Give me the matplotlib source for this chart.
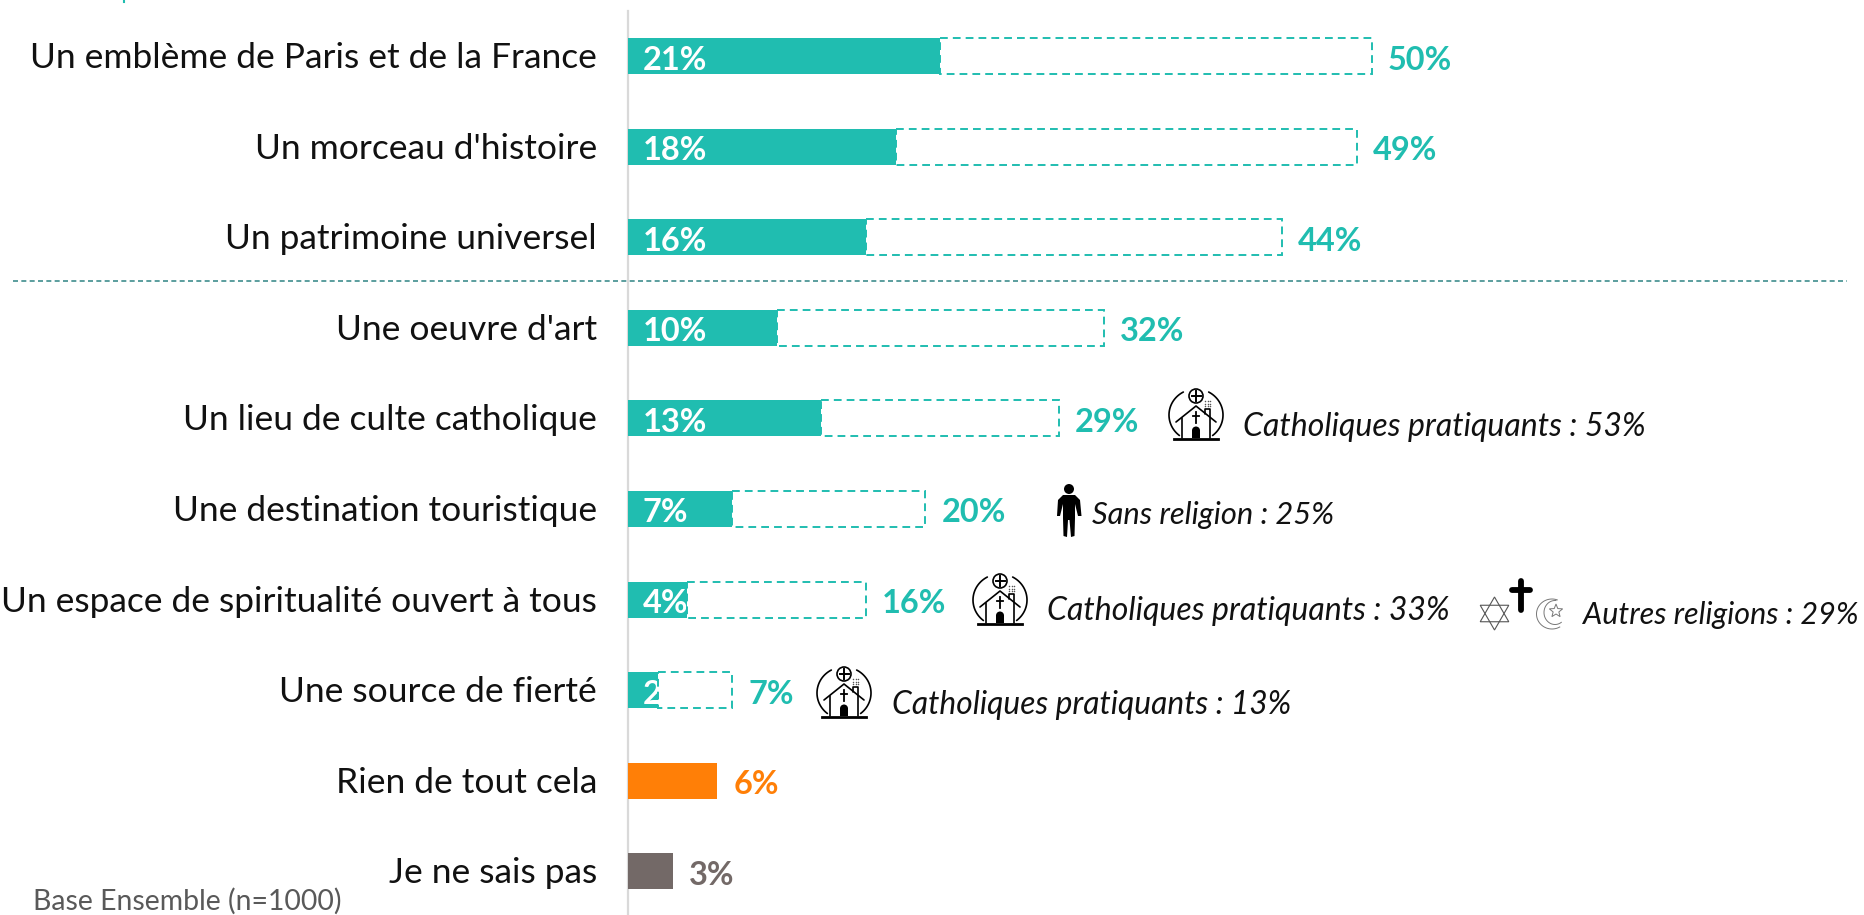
import numpy as np
import matplotlib
matplotlib.use("Agg")
import matplotlib.pyplot as plt
from matplotlib.patches import Circle, Polygon, Rectangle, Wedge

categories = ["Un emblème de Paris et de la France", "Un morceau d'histoire", "Un patrimoine universel",
              "Une oeuvre d'art", "Un lieu de culte catholique", "Une destination touristique",
              "Un espace de spiritualité ouvert à tous", "Une source de fierté", "Rien de tout cela", "Je ne sais pas"]
first_values = [21, 18, 16, 10, 13, 7, 4, 2, 6, 3]
total_values = [50, 49, 44, 32, 29, 20, 16, 7, 6, 3]
bar_colors = ["#20BDB0"] * 8 + ["#FF7F07", "#736967"]

TEAL = "#20BDB0"
FONT = ["Lato", "DejaVu Sans"]
W, H = 1864, 915
PX_PER_PCT = 14.87
X0 = 628
Y0, ROW = 56, 90.6

fig = plt.figure(figsize=(W / 100, H / 100), dpi=100, facecolor="white")
ax = fig.add_axes([0, 0, 1, 1])
ax.set_xlim(-X0 / PX_PER_PCT, (W - X0) / PX_PER_PCT)
ax.set_ylim((H - Y0) / ROW, -Y0 / ROW)
ax.axis("off")
ov = fig.add_axes([0, 0, 1, 1], facecolor="none")
ov.set_xlim(0, W)
ov.set_ylim(H, 0)
ov.axis("off")

BAR_H = 36 / ROW
y_pos = np.arange(len(categories))
ax.plot([0, 0], [(11 - Y0) / ROW, (H - Y0) / ROW], color="#D9D9D9", lw=1.6, zorder=1)
ax.barh(y_pos, first_values, height=BAR_H, color=bar_colors, zorder=2)
for i, (cat, a, b, c) in enumerate(zip(categories, first_values, total_values, bar_colors)):
    ax.annotate(cat, (0, i), xytext=(-31, -2), textcoords="offset pixels", ha="right", va="center",
                fontsize=25.5, family=FONT, weight="normal", color="#111111", zorder=3)
    if i < 8:
        ax.annotate(f"{a}%", (0, i), xytext=(15, -4), textcoords="offset pixels", ha="left", va="center",
                    fontsize=23.4, family=FONT, weight="bold", color="white", zorder=3)
        ax.barh(i, b - a, left=a, height=BAR_H, facecolor="white", edgecolor=TEAL, lw=1.4,
                linestyle=(0, (4, 2.6)), zorder=4)
    ax.annotate(f"{b}%", (b, i), xytext=(16, -4), textcoords="offset pixels", ha="left", va="center",
                fontsize=23.4, family=FONT, weight="bold", color=c, zorder=5)

ov.plot([13, 1847], [281, 281], color="#3E8E8E", lw=1.2, linestyle=(0, (3, 2)), zorder=1)
ov.plot([124, 124], [0, 2], color=TEAL, lw=1.5)

notes = [("Catholiques pratiquants : 53%", 1243, 427, 23), ("Sans religion : 25%", 1092, 515, 22.2),
         ("Catholiques pratiquants : 33%", 1047, 611, 23), ("Autres religions : 29%", 1583, 615, 22),
         ("Catholiques pratiquants : 13%", 892, 705, 22.9)]
for txt, x, y, size in notes:
    ov.text(x, y, txt, ha="left", va="center", fontsize=size, family=FONT, style="italic",
            weight="normal", color="#111111")
ov.text(33, 901, "Base Ensemble (n=1000)", ha="left", va="center", fontsize=20.4, family=FONT,
        weight="normal", color="#595959")


def church(x, y):
    k = dict(color="black", lw=1.2, solid_capstyle="round")
    t = np.radians(np.linspace(118, 232, 40))
    ov.plot(x + 27 + 27 * np.cos(t), y + 27 - 26 * np.sin(t), **k)
    ov.plot(x + 27 - 27 * np.cos(t), y + 27 - 26 * np.sin(t), **k)
    ov.add_patch(Circle((x + 27, y + 8), 7, fc="white", ec="black", lw=1.2, zorder=3))
    ov.plot([x + 27, x + 27], [y + 3, y + 13], color="black", lw=1.4, zorder=4)
    ov.plot([x + 22.5, x + 31.5], [y + 8, y + 8], color="black", lw=1.4, zorder=4)
    ov.plot([x + 7, x + 27, x + 47], [y + 34, y + 18, y + 34], **k)
    ov.plot([x + 13, x + 13], [y + 30, y + 50], **k)
    ov.plot([x + 41, x + 41, x + 36, x + 36], [y + 50, y + 21, y + 21, y + 26], **k)
    ov.plot([x + 5, x + 49], [y + 50.5, y + 50.5], color="black", lw=2)
    ov.plot([x + 27, x + 27], [y + 24, y + 35], color="black", lw=1.3)
    ov.plot([x + 24, x + 30], [y + 28, y + 28], color="black", lw=1.3)
    ov.add_patch(Wedge((x + 27, y + 42.5), 4, 180, 360, fc="black", ec="none"))
    ov.add_patch(Rectangle((x + 23, y + 42), 8, 8, fc="black", ec="none"))
    dx, dy = np.meshgrid([36, 38.5, 41], [13, 15.5, 18])
    ov.scatter(x + dx.ravel(), y + dy.ravel(), s=1.2, color="#555555", lw=0)


for cx, cy in [(1169, 388), (973, 573), (817, 666)]:
    church(cx, cy)

# person
px, py = 1057, 484
ov.add_patch(Circle((px + 12, py + 5), 5, fc="black", ec="none"))
ov.add_patch(Polygon(np.array([[6, 11], [18, 11], [23, 16], [24.5, 32], [21, 32], [18, 20], [18, 34],
                               [17.5, 52], [14, 53], [12.5, 36], [11, 36], [10, 53], [6.5, 52],
                               [6, 34], [6, 20], [3, 32], [0, 32], [1, 16]]) + [px, py],
                     fc="black", ec="none"))

# star of David
sx, sy, r = 1494.5, 613.5, 16.5
a = np.radians(np.array([90, 210, 330]))
ov.add_patch(Polygon(np.c_[sx + r * np.cos(a), sy - r * np.sin(a)], fc="none", ec="#555555", lw=0.8))
ov.add_patch(Polygon(np.c_[sx + r * np.cos(a + np.pi), sy - r * np.sin(a + np.pi)], fc="none", ec="#555555", lw=0.8))
# cross
ov.plot([1521, 1521], [581, 610], color="black", lw=4.2, solid_capstyle="round")
ov.plot([1512, 1530], [590, 590], color="black", lw=4.2, solid_capstyle="round")
# crescent and star
t = np.radians(np.linspace(70, 300, 50))
ov.plot(1552 + 15.5 * np.cos(t), 614 - 15 * np.sin(t), color="#777777", lw=0.7)
t2 = np.radians(np.linspace(85, 305, 50))
ov.plot(1555 + 11 * np.cos(t2), 612.5 - 12 * np.sin(t2), color="#777777", lw=0.7)
a = np.radians(90 + 36 * np.arange(10))
rad = np.where(np.arange(10) % 2 == 0, 7, 3)
ov.add_patch(Polygon(np.c_[1556 + rad * np.cos(a), 611 - rad * np.sin(a)], fc="none", ec="#777777", lw=0.7))

fig.savefig("out.png", dpi=100)
